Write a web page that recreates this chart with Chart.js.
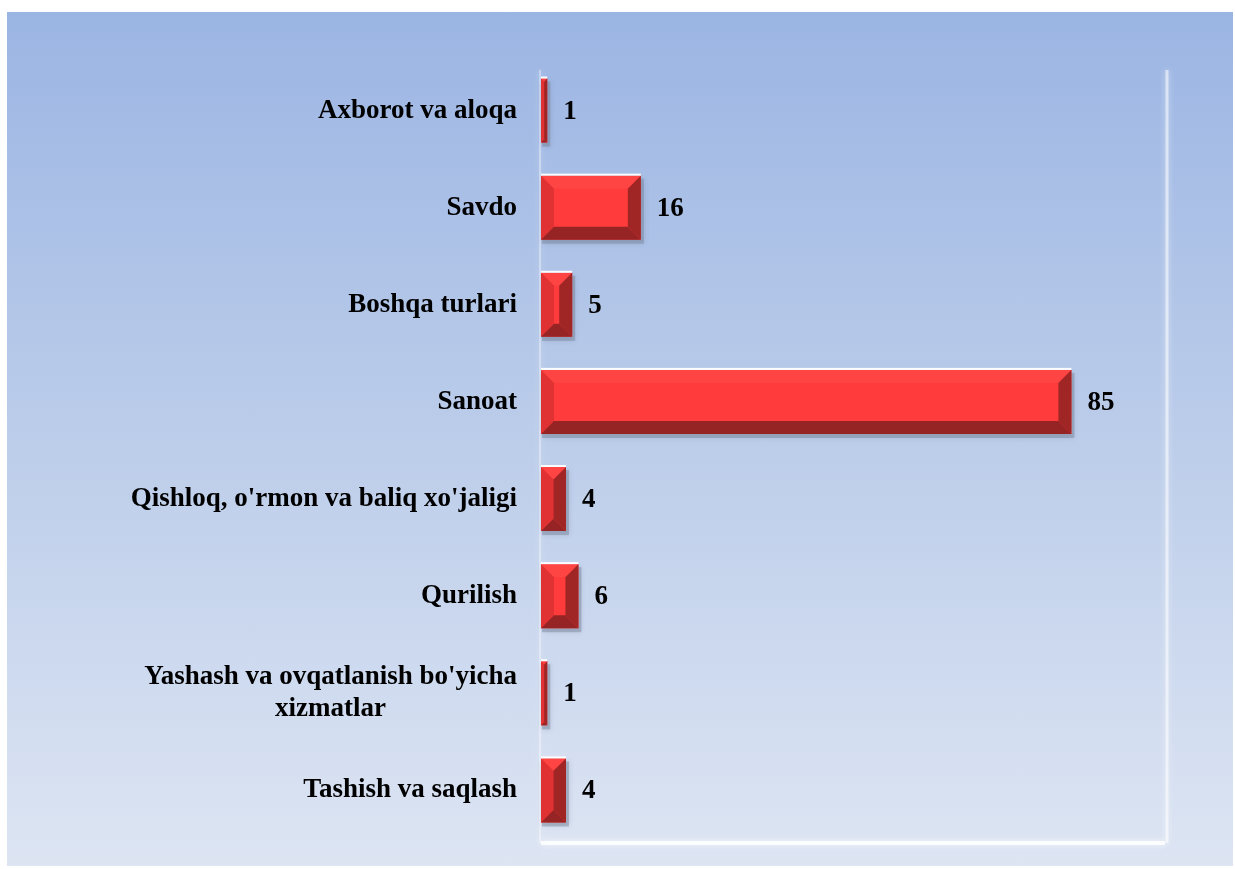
<!DOCTYPE html>
<html>
<head>
<meta charset="utf-8">
<script src="https://cdn.jsdelivr.net/npm/chart.js@4.4.1/dist/chart.umd.min.js"></script>
<style>
    body { margin: 0; background: #ffffff; }
    #wrap {
        position: absolute; left: 7px; top: 12px; width: 1226px; height: 854px;
        background: linear-gradient(to bottom, #9bb5e3 0%, #bccdea 50%, #dde5f3 100%);
    }
</style>
</head>
<body>
<div id="wrap"><canvas id="barChart" width="1226" height="854"></canvas></div>
<script>
// chart data
var categories = [
    'Axborot va aloqa',
    'Savdo',
    'Boshqa turlari',
    'Sanoat',
    "Qishloq, o'rmon va baliq xo'jaligi",
    'Qurilish',
    ["Yashash va ovqatlanish bo'yicha", 'xizmatlar'],
    'Tashish va saqlash'
];
var values = [1, 16, 5, 85, 4, 6, 1, 4];
var axisMin = 0;
var axisMax = 100;

var fontFamily = "'Liberation Serif', 'Times New Roman', serif";
var labelFont = 'bold 27px ' + fontFamily;

// draws the plot frame (faint white walls)
var framePlugin = {
    id: 'frame',
    beforeDatasetsDraw: function(chart) {
        var a = chart.chartArea, ctx = chart.ctx;
        ctx.save();
        ctx.shadowColor = 'rgba(255,255,255,0.9)';
        ctx.shadowBlur = 6;
        ctx.strokeStyle = 'rgba(255,255,255,0.85)';
        ctx.lineWidth = 4;
        ctx.beginPath();
        ctx.moveTo(a.left, a.bottom + 4);
        ctx.lineTo(a.right, a.bottom + 4);
        ctx.stroke();
        ctx.strokeStyle = 'rgba(255,255,255,0.55)';
        ctx.lineWidth = 3;
        ctx.beginPath();
        ctx.moveTo(a.right + 2, a.top + 8);
        ctx.lineTo(a.right + 2, a.bottom + 4);
        ctx.stroke();
        ctx.strokeStyle = 'rgba(255,255,255,0.35)';
        ctx.lineWidth = 2;
        ctx.beginPath();
        ctx.moveTo(a.left - 1, a.top + 8);
        ctx.lineTo(a.left - 1, a.bottom + 4);
        ctx.stroke();
        ctx.restore();
    }
};

// category labels: right edge next to the axis, multi-line ones centred on each other
var labelPlugin = {
    id: 'catLabels',
    afterDraw: function(chart) {
        var ctx = chart.ctx, scale = chart.scales.y;
        var lineH = 32;
        ctx.save();
        ctx.font = labelFont;
        ctx.fillStyle = '#000000';
        ctx.textAlign = 'center';
        ctx.textBaseline = 'middle';
        categories.forEach(function(lab, i) {
            var lines = Array.isArray(lab) ? lab : [lab];
            var w = 0;
            lines.forEach(function(s) { w = Math.max(w, ctx.measureText(s).width); });
            var cx = scale.right - 24 - w / 2;
            var cy = scale.getPixelForTick(i) - (lines.length - 1) * lineH / 2;
            lines.forEach(function(s, k) {
                ctx.fillText(s, cx, cy + k * lineH);
            });
        });
        ctx.restore();
    }
};

// bevel look for the bars + value labels
var bevelPlugin = {
    id: 'bevel',
    beforeDatasetsDraw: function(chart) {
        var ctx = chart.ctx;
        chart.getDatasetMeta(0).data.forEach(function(bar) {
            var l = bar.base, r = bar.x, t = bar.y - bar.height / 2, b = bar.y + bar.height / 2;
            ctx.save();
            ctx.fillStyle = 'rgba(120,130,150,0.45)';
            ctx.shadowColor = 'rgba(90,100,130,0.5)';
            ctx.shadowBlur = 5;
            ctx.fillRect(l + 1, t + 3, r - l + 2, b - t + 1);
            ctx.restore();
        });
    },
    afterDatasetsDraw: function(chart) {
        var ctx = chart.ctx;
        chart.getDatasetMeta(0).data.forEach(function(bar, i) {
            var l = bar.base, r = bar.x, t = bar.y - bar.height / 2, b = bar.y + bar.height / 2;
            var s = Math.min(13, (r - l) / 2, (b - t) / 2);
            function poly(pts, color) {
                ctx.fillStyle = color;
                ctx.beginPath();
                ctx.moveTo(pts[0][0], pts[0][1]);
                for (var k = 1; k < pts.length; k++) ctx.lineTo(pts[k][0], pts[k][1]);
                ctx.closePath();
                ctx.fill();
            }
            ctx.save();
            poly([[l, t], [r, t], [r - s, t + s], [l + s, t + s]], '#ff4444');
            poly([[l, t], [l + s, t + s], [l + s, b - s], [l, b]], '#e03232');
            poly([[l, b], [l + s, b - s], [r - s, b - s], [r, b]], '#962424');
            poly([[r, t], [r, b], [r - s, b - s], [r - s, t + s]], '#a02525');
            ctx.fillStyle = 'rgba(255,255,255,0.95)';
            ctx.fillRect(l, t - 2, r - l, 2);
            // value label
            ctx.fillStyle = '#000000';
            ctx.font = labelFont;
            ctx.textAlign = 'left';
            ctx.textBaseline = 'middle';
            ctx.fillText(String(values[i]), r + 16, bar.y + 1);
            ctx.restore();
        });
    }
};

var ctx1 = document.getElementById('barChart').getContext('2d');
window.myChart1 = new Chart(ctx1, {
    type: 'bar',
    data: {
        labels: categories,
        datasets: [{
            label: 'Soni',
            data: values,
            backgroundColor: '#ff3b3b',
            borderWidth: 0,
            categoryPercentage: 1,
            barPercentage: 0.66
        }]
    },
    options: {
        indexAxis: 'y',
        responsive: false,
        animation: false,
        layout: {
            padding: { top: 50, right: 68, bottom: 27, left: 0 }
        },
        plugins: {
            legend: { display: false },
            tooltip: { enabled: false }
        },
        scales: {
            x: {
                display: false,
                min: axisMin,
                max: axisMax
            },
            y: {
                afterFit: function(scale) {
                    scale.width = 534;
                    scale.paddingTop = 0;
                    scale.paddingBottom = 0;
                },
                grid: { display: false, drawTicks: false },
                border: { display: false },
                ticks: { display: false }
            }
        }
    },
    plugins: [framePlugin, bevelPlugin, labelPlugin]
});
</script>
</body>
</html>
